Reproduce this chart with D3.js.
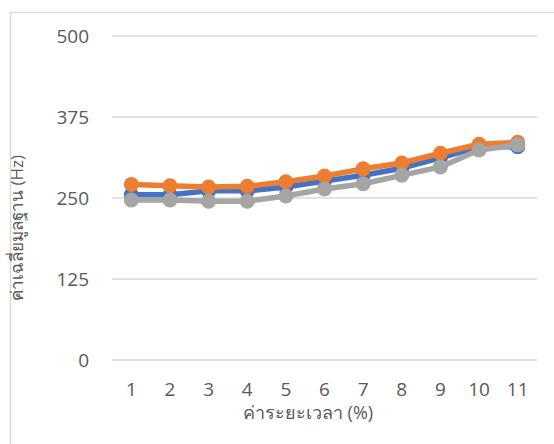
<!DOCTYPE html>
<html>
<head>
<meta charset="utf-8">
<script src="https://cdn.jsdelivr.net/npm/d3@7"></script>
<style>
  body { margin: 0; background: #fff; }
  text { font-family: "Open Sans", "Noto Sans", sans-serif; }
</style>
</head>
<body>
<div id="chart"></div>
<script>
const categories = ['1', '2', '3', '4', '5', '6', '7', '8', '9', '10', '11'];
const blueValues   = [255, 255, 261, 261, 267, 276, 285, 296, 312, 329, 329];
const orangeValues = [271, 269, 267, 268, 275, 284, 295, 304, 319, 333, 336];
const grayValues   = [247, 247, 245, 245, 253, 264, 272, 285, 298, 324, 332];
const yTicks = [0, 125, 250, 375, 500];
const yLabel = 'ค่าเฉลี่ยมูลฐาน (Hz)';
const xLabel = 'ค่าระยะเวลา (%)';

const width = 554, height = 444;
const margin = { top: 36, right: 17, bottom: 84, left: 112 };

const svg = d3.select('#chart').append('svg')
    .attr('width', width)
    .attr('height', height);

// chart frame (cropped at right/bottom)
svg.append('rect')
    .attr('x', 10.5).attr('y', 12.5)
    .attr('width', 700).attr('height', 600)
    .attr('fill', 'none')
    .attr('stroke', '#d9d9d9')
    .attr('stroke-width', 1.5);

const x = d3.scaleBand()
    .domain(categories)
    .range([margin.left, width - margin.right]);

const y = d3.scaleLinear()
    .domain([0, 500])
    .range([height - margin.bottom, margin.top]);

// gridlines
svg.selectAll('.grid')
    .data(yTicks)
    .enter()
    .append('line')
    .attr('class', 'grid')
    .attr('x1', x.range()[0])
    .attr('x2', x.range()[1])
    .attr('y1', d => y(d))
    .attr('y2', d => y(d))
    .attr('stroke', '#d9d9d9')
    .attr('stroke-width', 1.5);

const yAxis = d3.axisLeft(y).tickValues(yTicks).tickSize(0).tickPadding(23);
const yG = svg.append('g')
    .attr('transform', `translate(${margin.left},0)`)
    .call(yAxis);
yG.select('.domain').remove();
yG.selectAll('text')
    .attr('fill', '#595959')
    .style('font-size', '19px')
    .attr('dy', '0.34em');

const xAxis = d3.axisBottom(x).tickSize(0).tickPadding(23);
const xG = svg.append('g')
    .attr('transform', `translate(0,${y(0)})`)
    .call(xAxis);
xG.select('.domain').remove();
xG.selectAll('text')
    .attr('fill', '#595959')
    .style('font-size', '19px');

const series = [
    { values: grayValues, color: '#a5a5a5' },
    { values: blueValues, color: '#4472c4' },
    { values: orangeValues, color: '#ed7d31' }
];

const line = d3.line()
    .x((d, i) => x(categories[i]) + x.bandwidth() / 2)
    .y(d => y(d));

// Excel draw order: blue, orange, gray
const order = [series[1], series[2], series[0]];
order.forEach(s => {
    svg.append('path')
        .datum(s.values)
        .attr('fill', 'none')
        .attr('stroke', s.color)
        .attr('stroke-width', 5.5)
        .attr('stroke-linejoin', 'round')
        .attr('d', line);
    svg.selectAll(null)
        .data(s.values)
        .enter()
        .append('circle')
        .attr('cx', (d, i) => x(categories[i]) + x.bandwidth() / 2)
        .attr('cy', d => y(d))
        .attr('r', 7.5)
        .attr('fill', s.color);
});

svg.append('text')
    .attr('transform', `translate(23,${(y(0) + y(500)) / 2 + 30}) rotate(-90)`)
    .attr('text-anchor', 'middle')
    .attr('fill', '#595959')
    .style('font-size', '17px')
    .text(yLabel);

svg.append('text')
    .attr('x', 308)
    .attr('y', 419)
    .attr('text-anchor', 'middle')
    .attr('fill', '#595959')
    .style('font-size', '18px')
    .text(xLabel);
</script>
</body>
</html>
